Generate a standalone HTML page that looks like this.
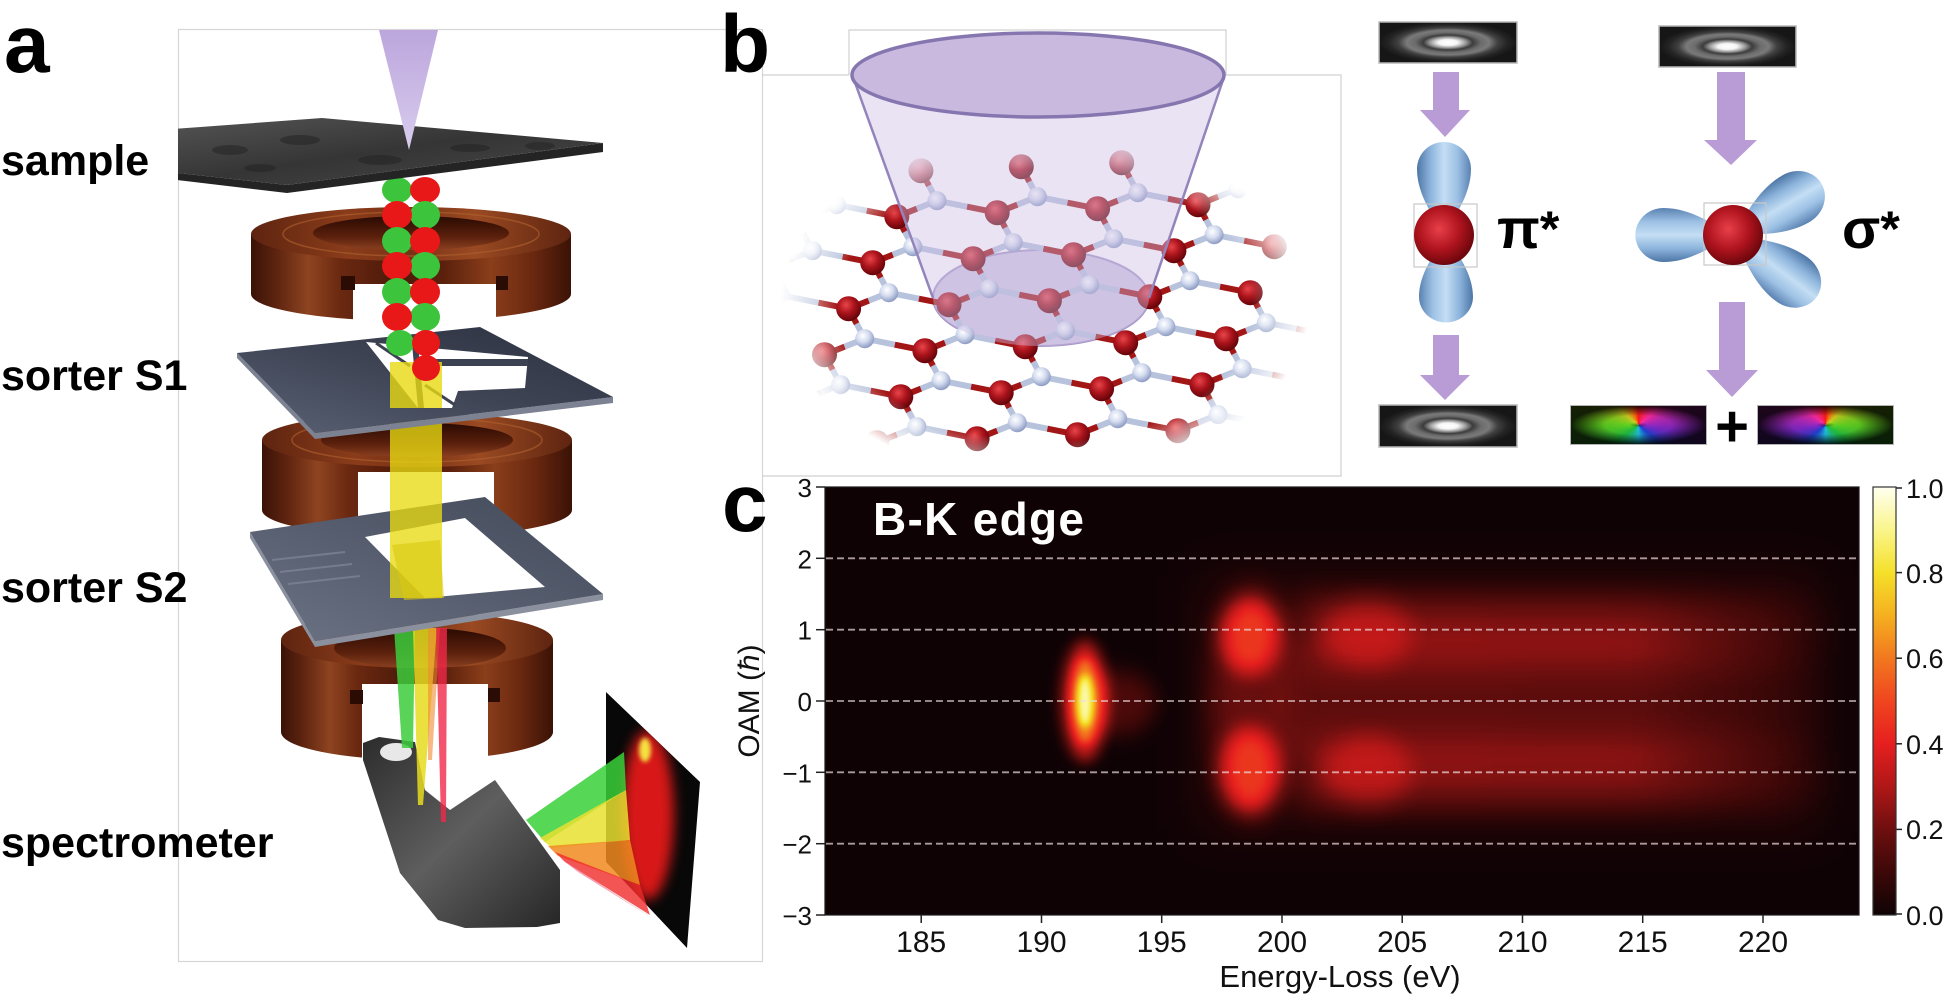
<!DOCTYPE html>
<html><head><meta charset="utf-8">
<style>
html,body{margin:0;padding:0;background:#fff;}
#wrap{position:relative;width:1950px;height:996px;overflow:hidden;background:#fff;font-family:"Liberation Sans",Arial,sans-serif;}
#wrap svg{position:absolute;left:0;top:0;}
.vx{position:absolute;box-sizing:border-box;border:1.5px solid #b4b4b4;}
</style></head><body><div id="wrap">
<svg width="1950" height="996" viewBox="0 0 1950 996" xmlns="http://www.w3.org/2000/svg" font-family="Liberation Sans, Arial, sans-serif">
<defs>
 <linearGradient id="cmap" x1="0" y1="1" x2="0" y2="0">
  <stop offset="0" stop-color="#0f0305"/><stop offset="0.1" stop-color="#3d0808"/><stop offset="0.2" stop-color="#6e0f0f"/>
  <stop offset="0.3" stop-color="#b01717"/><stop offset="0.4" stop-color="#e61f1f"/><stop offset="0.5" stop-color="#f0451f"/>
  <stop offset="0.6" stop-color="#f2781f"/><stop offset="0.7" stop-color="#f5b01f"/><stop offset="0.8" stop-color="#f5e029"/>
  <stop offset="0.9" stop-color="#faf58c"/><stop offset="1" stop-color="#fffff0"/>
 </linearGradient>
 <linearGradient id="rg" gradientUnits="userSpaceOnUse" x1="1300" y1="0" x2="1840" y2="0">
  <stop offset="0" stop-color="#fff" stop-opacity="0.2"/><stop offset="0.63" stop-color="#fff" stop-opacity="0.19"/>
  <stop offset="0.88" stop-color="#fff" stop-opacity="0.06"/><stop offset="1" stop-color="#fff" stop-opacity="0"/>
 </linearGradient>
 <filter id="hot" filterUnits="userSpaceOnUse" x="825" y="487" width="1034" height="428" color-interpolation-filters="sRGB">
  <feComponentTransfer>
   <feFuncR type="table" tableValues="0.06 0.24 0.43 0.69 0.9 0.94 0.95 0.96 0.96 0.98 1"/>
   <feFuncG type="table" tableValues="0.01 0.03 0.06 0.09 0.12 0.27 0.47 0.69 0.88 0.96 1"/>
   <feFuncB type="table" tableValues="0.02 0.03 0.06 0.09 0.12 0.12 0.12 0.12 0.16 0.55 0.94"/>
  </feComponentTransfer>
 </filter>
 <filter id="b2" x="-100%" y="-100%" width="300%" height="300%" color-interpolation-filters="sRGB"><feGaussianBlur stdDeviation="2"/></filter>
 <filter id="b4" x="-100%" y="-100%" width="300%" height="300%" color-interpolation-filters="sRGB"><feGaussianBlur stdDeviation="4"/></filter>
 <filter id="b5" x="-100%" y="-100%" width="300%" height="300%" color-interpolation-filters="sRGB"><feGaussianBlur stdDeviation="5"/></filter>
 <filter id="b6" x="-100%" y="-100%" width="300%" height="300%" color-interpolation-filters="sRGB"><feGaussianBlur stdDeviation="6"/></filter>
 <filter id="b10" x="-100%" y="-100%" width="300%" height="300%" color-interpolation-filters="sRGB"><feGaussianBlur stdDeviation="10"/></filter>
 <filter id="b12" x="-100%" y="-100%" width="300%" height="300%" color-interpolation-filters="sRGB"><feGaussianBlur stdDeviation="12"/></filter>
 <filter id="b14" x="-100%" y="-100%" width="300%" height="300%" color-interpolation-filters="sRGB"><feGaussianBlur stdDeviation="14"/></filter>
 <filter id="b17" x="-100%" y="-100%" width="300%" height="300%" color-interpolation-filters="sRGB"><feGaussianBlur stdDeviation="17"/></filter>
 <filter id="b25" x="-100%" y="-100%" width="300%" height="300%" color-interpolation-filters="sRGB"><feGaussianBlur stdDeviation="25"/></filter>
 <clipPath id="pc"><rect x="825" y="487" width="1034" height="428"/></clipPath>
 <clipPath id="pa"><rect x="178" y="30" width="584" height="932"/></clipPath>
 <clipPath id="scr"><polygon points="606,692 700,782 687,948 606,862"/></clipPath>

 <linearGradient id="cu" x1="0" y1="0" x2="1" y2="0">
  <stop offset="0" stop-color="#3a1206"/><stop offset="0.08" stop-color="#5e2410"/><stop offset="0.18" stop-color="#8e4420"/>
  <stop offset="0.28" stop-color="#6a2810"/><stop offset="0.45" stop-color="#4e1a0a"/><stop offset="0.6" stop-color="#5a200c"/>
  <stop offset="0.75" stop-color="#8a3e1a"/><stop offset="0.88" stop-color="#6a2810"/><stop offset="1" stop-color="#3a1206"/>
 </linearGradient>
 <linearGradient id="cuT" x1="0" y1="0" x2="1" y2="0">
  <stop offset="0" stop-color="#5e2410"/><stop offset="0.3" stop-color="#8a3c1a"/><stop offset="0.5" stop-color="#7a3216"/>
  <stop offset="0.7" stop-color="#9a4a22"/><stop offset="1" stop-color="#5e2410"/>
 </linearGradient>
 <linearGradient id="cuI" x1="0" y1="0" x2="0" y2="1">
  <stop offset="0" stop-color="#2a0a02"/><stop offset="0.6" stop-color="#5a200c"/><stop offset="1" stop-color="#8a4020"/>
 </linearGradient>
 <linearGradient id="pl1" x1="0" y1="1" x2="1" y2="0">
  <stop offset="0" stop-color="#5a6275"/><stop offset="0.5" stop-color="#3e4454"/><stop offset="1" stop-color="#2c3140"/>
 </linearGradient>
 <linearGradient id="pl2" x1="0" y1="1" x2="1" y2="0">
  <stop offset="0" stop-color="#6c7384"/><stop offset="0.5" stop-color="#565d6e"/><stop offset="1" stop-color="#434a5a"/>
 </linearGradient>
 <linearGradient id="smp" x1="0" y1="0" x2="1" y2="1">
  <stop offset="0" stop-color="#555"/><stop offset="0.5" stop-color="#353535"/><stop offset="1" stop-color="#4a4a4a"/>
 </linearGradient>
 <linearGradient id="spec" x1="0" y1="0" x2="1" y2="1">
  <stop offset="0" stop-color="#2c2c2c"/><stop offset="0.5" stop-color="#5e5e5e"/><stop offset="1" stop-color="#262626"/>
 </linearGradient>
 <linearGradient id="beam" x1="0" y1="0" x2="0" y2="1">
  <stop offset="0" stop-color="#bca6dc"/><stop offset="1" stop-color="#d8ccee"/>
 </linearGradient>
 <linearGradient id="lobeG" x1="0" y1="0" x2="1" y2="0">
  <stop offset="0" stop-color="#4e76a6"/><stop offset="0.25" stop-color="#8cb4dc"/><stop offset="0.5" stop-color="#c4def4"/>
  <stop offset="0.75" stop-color="#9cc0e4"/><stop offset="1" stop-color="#5a82b2"/>
 </linearGradient>
 <radialGradient id="bigRed" cx="0.42" cy="0.4" r="0.62">
  <stop offset="0" stop-color="#e8404a"/><stop offset="0.55" stop-color="#b0141e"/><stop offset="1" stop-color="#6a060c"/>
 </radialGradient>
 <radialGradient id="gRed" cx="0.4" cy="0.35" r="0.65">
  <stop offset="0" stop-color="#e8454a"/><stop offset="0.5" stop-color="#ac141c"/><stop offset="1" stop-color="#640409"/>
 </radialGradient>
 <radialGradient id="gBlu" cx="0.4" cy="0.35" r="0.65">
  <stop offset="0" stop-color="#ffffff"/><stop offset="0.5" stop-color="#d4dcef"/><stop offset="1" stop-color="#8e9cc4"/>
 </radialGradient>
 <radialGradient id="gb" cx="0.5" cy="0.5" r="0.5">
  <stop offset="0" stop-color="#ffffff"/><stop offset="0.14" stop-color="#f6f6f6"/><stop offset="0.26" stop-color="#9a9a9a"/>
  <stop offset="0.36" stop-color="#3c3c3c"/><stop offset="0.48" stop-color="#6c6c6c"/><stop offset="0.6" stop-color="#7a7a7a"/>
  <stop offset="0.72" stop-color="#404040"/><stop offset="0.86" stop-color="#242424"/><stop offset="1" stop-color="#161616"/>
 </radialGradient>
 <radialGradient id="latg" gradientUnits="userSpaceOnUse" cx="1045" cy="305" r="265" gradientTransform="translate(1045 305) scale(1 0.66) translate(-1045 -305)">
  <stop offset="0.78" stop-color="#fff"/><stop offset="1" stop-color="#000"/>
 </radialGradient>
 <mask id="latm" maskUnits="userSpaceOnUse" x="761" y="76" width="580" height="400">
  <rect x="761" y="76" width="580" height="400" fill="url(#latg)"/>
 </mask>
 <g id="bnd" stroke-width="6">
  <line x1="0" y1="0" x2="-8.05" y2="-15" stroke="#b7c2dc"/>
  <line x1="-8.05" y1="-15" x2="-16.1" y2="-30" stroke="#a31616"/>
  <line x1="0" y1="0" x2="-20.1" y2="8" stroke="#b7c2dc"/>
  <line x1="-20.1" y1="8" x2="-40.2" y2="16" stroke="#a31616"/>
  <line x1="0" y1="0" x2="30.1" y2="6" stroke="#b7c2dc"/>
  <line x1="30.1" y1="6" x2="60.2" y2="12" stroke="#a31616"/>
 </g>
 <circle id="aR" r="12.5" fill="url(#gRed)"/>
 <circle id="aB" r="9.5" fill="url(#gBlu)"/>
 <path id="lobe" d="M0,0 C-10,-18 -27,-40 -27,-66 A27,27 0 0 1 27,-66 C27,-40 10,-18 0,0 Z" fill="url(#lobeG)"/>
</defs>

<!-- ================= PANEL A ================= -->
<rect x="178.5" y="29.5" width="584" height="932" fill="none" stroke="#d6d6d6" stroke-width="1.2"/>
<g clip-path="url(#pa)">
 <!-- ring 3 -->
 <path d="M281,640 L281,732 A136,28 0 0 0 553,732 L553,640 Z" fill="url(#cu)"/>
 <ellipse cx="417" cy="640" rx="136" ry="28" fill="url(#cuT)"/>
 <ellipse cx="420" cy="648" rx="86" ry="20" fill="url(#cuI)"/>
 <rect x="362" y="684" width="126" height="80" fill="#fff"/>
 <rect x="350" y="690" width="13" height="14" fill="#2a0c04"/>
 <rect x="488" y="688" width="12" height="14" fill="#2a0c04"/>
 <!-- spectrometer -->
 <polygon points="363,743 379,737 415,742 425,790 450,810 495,780 560,870 560,923 537,927 465,928 438,920 400,873 363,760" fill="url(#spec)"/>
 <ellipse cx="396" cy="752" rx="16" ry="9" fill="#e8e8e8"/>
 <!-- colored beams below S2 -->
 <polygon points="394,628 415,628 413,748 402,748" fill="#3ccc3c" opacity="0.85"/>
 <polygon points="413,628 437,628 423,805 418,805" fill="#e6dc20" opacity="0.85"/>
 <polygon points="428,628 440,628 432,760 428,760" fill="#f08a30" opacity="0.6"/>
 <polygon points="436,628 447,628 446,822 441,822" fill="#f02848" opacity="0.8"/>
 <!-- ring 2 -->
 <path d="M262,440 L262,510 A155,27 0 0 0 572,510 L572,440 Z" fill="url(#cu)"/>
 <ellipse cx="417" cy="440" rx="155" ry="27" fill="url(#cuT)"/>
 <ellipse cx="417" cy="440" rx="96" ry="17" fill="url(#cuI)"/>
 <ellipse cx="417" cy="440" rx="125" ry="22" fill="none" stroke="#b0622e" stroke-width="1.5" opacity="0.6"/>
 <rect x="358" y="472" width="136" height="76" fill="#fff"/>
 <!-- ring 1 -->
 <path d="M251,234 L251,294 A160,27 0 0 0 571,294 L571,234 Z" fill="url(#cu)"/>
 <ellipse cx="411" cy="234" rx="160" ry="27" fill="url(#cuT)"/>
 <ellipse cx="411" cy="233" rx="98" ry="17" fill="url(#cuI)"/>
 <ellipse cx="411" cy="234" rx="128" ry="22" fill="none" stroke="#b0622e" stroke-width="1.5" opacity="0.6"/>
 <rect x="353" y="284" width="143" height="45" fill="#fff"/>
 <rect x="341" y="276" width="14" height="14" fill="#2a0c04"/>
 <rect x="496" y="276" width="12" height="14" fill="#2a0c04"/>
 <!-- S2 plate -->
 <polygon points="250,532 315,641 603,594 603,600 315,647 250,538" fill="#8a909e"/>
 <polygon points="250,532 485,497 603,594 315,641" fill="url(#pl2)"/>
 <polygon points="365,537 465,518 545,587 425,598" fill="#fff"/>
 <g stroke="#7c8394" stroke-width="2" opacity="0.8">
  <line x1="272" y1="560" x2="345" y2="552"/><line x1="280" y1="572" x2="352" y2="564"/><line x1="288" y1="584" x2="360" y2="576"/>
 </g>
 <!-- yellow lower -->
 <rect x="390" y="420" width="52" height="178" fill="#e8da12" opacity="0.78"/>
 <polygon points="392,545 440,540 444,598 404,600" fill="#d8c810" opacity="0.6"/>
 <!-- S1 plate -->
 <polygon points="237,353 315,433 613,397 613,403 315,439 237,358" fill="#7c8292"/>
 <polygon points="237,353 480,327 613,397 315,433" fill="url(#pl1)"/>
 <polygon points="366,342 528,357 525,388 458,391 452,408 418,408" fill="#fff"/>
 <polygon points="414,359 528,359 528,366 414,366" fill="#3c4252"/>
 <polygon points="412,344 418,344 424,408 418,408" fill="#3c4252"/>
 <line x1="376" y1="343" x2="410" y2="366" stroke="#3c4252" stroke-width="3"/>
 <line x1="425" y1="385" x2="455" y2="405" stroke="#3c4252" stroke-width="3"/>
 <rect x="390" y="362" width="52" height="46" fill="#e8da12" opacity="0.8"/>
 <!-- helix -->
 <g>
  <ellipse cx="397" cy="190" rx="15" ry="13" fill="#3cc43c"/><ellipse cx="425" cy="190" rx="15" ry="13" fill="#e81818"/>
  <ellipse cx="425" cy="215" rx="15" ry="14" fill="#3cc43c"/><ellipse cx="397" cy="215" rx="15" ry="14" fill="#e81818"/>
  <ellipse cx="397" cy="241" rx="15" ry="14" fill="#3cc43c"/><ellipse cx="425" cy="241" rx="15" ry="14" fill="#e81818"/>
  <ellipse cx="425" cy="266" rx="15" ry="14" fill="#3cc43c"/><ellipse cx="397" cy="266" rx="15" ry="14" fill="#e81818"/>
  <ellipse cx="397" cy="292" rx="15" ry="14" fill="#3cc43c"/><ellipse cx="425" cy="292" rx="15" ry="14" fill="#e81818"/>
  <ellipse cx="425" cy="317" rx="15" ry="14" fill="#3cc43c"/><ellipse cx="397" cy="317" rx="15" ry="14" fill="#e81818"/>
  <ellipse cx="400" cy="343" rx="14" ry="13" fill="#3cc43c"/><ellipse cx="426" cy="343" rx="14" ry="13" fill="#e81818"/>
  <ellipse cx="426" cy="368" rx="14" ry="13" fill="#e81818"/>
 </g>
 <!-- screen -->
 <polygon points="606,692 700,782 687,948 606,862" fill="#080808"/>
 <g clip-path="url(#scr)">
  <ellipse cx="648" cy="815" rx="26" ry="85" fill="#d81818" filter="url(#b6)"/>
  <ellipse cx="645" cy="750" rx="6" ry="12" fill="#f4e040" filter="url(#b2)"/>
 </g>
 <!-- fan -->
 <polygon points="526,820 545,842 626,790 624,752" fill="#38d038" opacity="0.85"/>
 <polygon points="540,838 552,848 630,840 626,790" fill="#e8e030" opacity="0.85"/>
 <polygon points="548,846 558,856 640,885 630,840" fill="#f08a20" opacity="0.85"/>
 <polygon points="555,852 565,862 650,915 640,885" fill="#f02a2a" opacity="0.8"/>
 <polygon points="560,858 578,872 652,918" fill="#f06080" opacity="0.6"/>
 <!-- sample plate -->
 <polygon points="160,171 287,185 603,143 603,152 287,193 160,178" fill="#242424"/>
 <polygon points="160,130 322,118 603,143 287,185 160,171" fill="url(#smp)"/>
 <g fill="#222" opacity="0.5">
  <ellipse cx="230" cy="150" rx="18" ry="5"/><ellipse cx="300" cy="140" rx="20" ry="5"/><ellipse cx="380" cy="160" rx="22" ry="5"/>
  <ellipse cx="470" cy="148" rx="20" ry="4"/><ellipse cx="260" cy="168" rx="16" ry="4"/><ellipse cx="540" cy="146" rx="15" ry="4"/>
 </g>
 <!-- electron beam cone -->
 <polygon points="379,30 438,30 409,150" fill="url(#beam)"/>
</g>

<!-- labels panel a -->
<text x="4" y="72" font-size="82" font-weight="bold" fill="#000">a</text>
<g font-size="43" font-weight="bold" fill="#000">
 <text x="1" y="175">sample</text>
 <text x="1" y="390">sorter S1</text>
 <text x="1" y="602">sorter S2</text>
 <text x="1" y="857">spectrometer</text>
</g>

<!-- ================= PANEL B ================= -->
<text x="720" y="72" font-size="82" font-weight="bold" fill="#000">b</text>
<g stroke="#d0d0d0" stroke-width="1.2" fill="none">
 <path d="M849,75 V30 H1226 V75"/>
 <path d="M762,75 H849 M1226,75 H1341 V476 H762"/>
</g>
<ellipse cx="1041" cy="298" rx="108" ry="48" fill="#c0b0dc" fill-opacity="0.7" stroke="#a898c8" stroke-width="2"/>
<g mask="url(#latm)">
 <g>
  <use href="#bnd" x="836.6" y="204.7"/><use href="#bnd" x="937" y="200.7"/><use href="#bnd" x="1037.4" y="196.7"/><use href="#bnd" x="1137.8" y="192.7"/><use href="#bnd" x="1238.2" y="188.7"/>
  <use href="#bnd" x="812.5" y="250.7"/><use href="#bnd" x="912.9" y="246.7"/><use href="#bnd" x="1013.3" y="242.7"/><use href="#bnd" x="1113.7" y="238.7"/><use href="#bnd" x="1214.1" y="234.7"/>
  <use href="#bnd" x="788.4" y="296.7"/><use href="#bnd" x="888.8" y="292.7"/><use href="#bnd" x="989.2" y="288.7"/><use href="#bnd" x="1089.6" y="284.7"/><use href="#bnd" x="1190" y="280.7"/>
  <use href="#bnd" x="864.7" y="338.7"/><use href="#bnd" x="965.1" y="334.7"/><use href="#bnd" x="1065.5" y="330.7"/><use href="#bnd" x="1165.9" y="326.7"/><use href="#bnd" x="1266.3" y="322.7"/>
  <use href="#bnd" x="840.6" y="384.7"/><use href="#bnd" x="941" y="380.7"/><use href="#bnd" x="1041.4" y="376.7"/><use href="#bnd" x="1141.8" y="372.7"/><use href="#bnd" x="1242.2" y="368.7"/>
  <use href="#bnd" x="916.9" y="426.7"/><use href="#bnd" x="1017.3" y="422.7"/><use href="#bnd" x="1117.7" y="418.7"/><use href="#bnd" x="1218.1" y="414.7"/>
 </g>
 <g>
  <use href="#aR" x="820.5" y="174.7"/><use href="#aR" x="920.9" y="170.7"/><use href="#aR" x="1021.3" y="166.7"/><use href="#aR" x="1121.7" y="162.7"/><use href="#aR" x="1222.1" y="158.7"/>
  <use href="#aR" x="896.8" y="216.7"/><use href="#aR" x="997.2" y="212.7"/><use href="#aR" x="1097.6" y="208.7"/><use href="#aR" x="1198" y="204.7"/><use href="#aR" x="1298.4" y="200.7"/>
  <use href="#aR" x="872.7" y="262.7"/><use href="#aR" x="973.1" y="258.7"/><use href="#aR" x="1073.5" y="254.7"/><use href="#aR" x="1173.9" y="250.7"/><use href="#aR" x="1274.3" y="246.7"/>
  <use href="#aR" x="848.6" y="308.7"/><use href="#aR" x="949" y="304.7"/><use href="#aR" x="1049.4" y="300.7"/><use href="#aR" x="1149.8" y="296.7"/><use href="#aR" x="1250.2" y="292.7"/>
  <use href="#aR" x="824.5" y="354.7"/><use href="#aR" x="924.9" y="350.7"/><use href="#aR" x="1025.3" y="346.7"/><use href="#aR" x="1125.7" y="342.7"/><use href="#aR" x="1226.1" y="338.7"/>
  <use href="#aR" x="900.8" y="396.7"/><use href="#aR" x="1001.2" y="392.7"/><use href="#aR" x="1101.6" y="388.7"/><use href="#aR" x="1202" y="384.7"/>
  <use href="#aR" x="876.7" y="442.7"/><use href="#aR" x="977.1" y="438.7"/><use href="#aR" x="1077.5" y="434.7"/><use href="#aR" x="1177.9" y="430.7"/>
 </g>
 <g>
  <use href="#aB" x="836.6" y="204.7"/><use href="#aB" x="937" y="200.7"/><use href="#aB" x="1037.4" y="196.7"/><use href="#aB" x="1137.8" y="192.7"/><use href="#aB" x="1238.2" y="188.7"/>
  <use href="#aB" x="812.5" y="250.7"/><use href="#aB" x="912.9" y="246.7"/><use href="#aB" x="1013.3" y="242.7"/><use href="#aB" x="1113.7" y="238.7"/><use href="#aB" x="1214.1" y="234.7"/>
  <use href="#aB" x="888.8" y="292.7"/><use href="#aB" x="989.2" y="288.7"/><use href="#aB" x="1089.6" y="284.7"/><use href="#aB" x="1190" y="280.7"/>
  <use href="#aB" x="864.7" y="338.7"/><use href="#aB" x="965.1" y="334.7"/><use href="#aB" x="1065.5" y="330.7"/><use href="#aB" x="1165.9" y="326.7"/><use href="#aB" x="1266.3" y="322.7"/>
  <use href="#aB" x="840.6" y="384.7"/><use href="#aB" x="941" y="380.7"/><use href="#aB" x="1041.4" y="376.7"/><use href="#aB" x="1141.8" y="372.7"/><use href="#aB" x="1242.2" y="368.7"/>
  <use href="#aB" x="916.9" y="426.7"/><use href="#aB" x="1017.3" y="422.7"/><use href="#aB" x="1117.7" y="418.7"/><use href="#aB" x="1218.1" y="414.7"/>
 </g>
</g>
<path d="M853,77 L933,298 A108,48 0 0 0 1149,298 L1224,77 A186,42 0 0 1 853,77 Z" fill="#cbbde2" fill-opacity="0.42"/>
<g stroke="#9484bc" stroke-width="2.5"><line x1="853" y1="77" x2="933" y2="298"/><line x1="1224" y1="77" x2="1149" y2="298"/></g>
<ellipse cx="1038" cy="75" rx="186" ry="42" fill="#c9b9df" stroke="#8676b0" stroke-width="3.5"/>

<rect x="1379" y="22" width="138" height="41" fill="url(#gb)" stroke="#b8b8b8" stroke-width="1.5"/>
<rect x="1659" y="26" width="137" height="41" fill="url(#gb)" stroke="#b8b8b8" stroke-width="1.5"/>
<rect x="1379" y="405" width="138" height="42" fill="url(#gb)" stroke="#b8b8b8" stroke-width="1.5"/>
<g fill="#b99bd6">
 <polygon points="1433,72 1459,72 1459,110 1470,110 1445,137 1420,110 1433,110"/>
 <polygon points="1717,72 1745,72 1745,140 1757,140 1731,165 1704,140 1717,140"/>
 <polygon points="1433,335 1459,335 1459,375 1470,375 1445,400 1420,375 1433,375"/>
 <polygon points="1719,302 1745,302 1745,370 1758,370 1732,397 1706,370 1719,370"/>
</g>
<use href="#lobe" transform="translate(1444,235)"/>
<use href="#lobe" transform="translate(1446,235) rotate(180) scale(1,0.94)"/>
<rect x="1414" y="204" width="63" height="63" fill="none" stroke="#c8c8c8" stroke-width="1.2"/>
<circle cx="1444" cy="235" r="30" fill="url(#bigRed)"/>
<text x="1497" y="248" font-size="56" font-weight="bold" fill="#000">π<tspan font-size="50" dy="-2">*</tspan></text>
<use href="#lobe" transform="translate(1733,235) rotate(-90) scale(1,1.05)"/>
<use href="#lobe" transform="translate(1733,235) rotate(60) scale(1,1.1)"/>
<use href="#lobe" transform="translate(1733,235) rotate(127) scale(1,1.12)"/>
<rect x="1704" y="203" width="62" height="62" fill="none" stroke="#c8c8c8" stroke-width="1.2"/>
<circle cx="1733" cy="235" r="30" fill="url(#bigRed)"/>
<text x="1842" y="248" font-size="56" font-weight="bold" fill="#000">σ<tspan font-size="50" dy="-2">*</tspan></text>
<text x="1732" y="446" font-size="58" font-weight="bold" text-anchor="middle" fill="#000">+</text>

<!-- ================= PANEL C ================= -->
<text x="722" y="531" font-size="82" font-weight="bold" fill="#000">c</text>
<g clip-path="url(#pc)">
 <g filter="url(#hot)">
  <rect x="825" y="487" width="1034" height="428" fill="#000"/>
  <g fill="#fff">
   <rect x="1200" y="575" width="620" height="255" fill-opacity="0.06" filter="url(#b25)"/>
   <rect x="1290" y="652" width="550" height="98" fill="url(#rg)" fill-opacity="0.6" filter="url(#b17)"/>
   <rect x="1300" y="600" width="540" height="64" fill="url(#rg)" filter="url(#b17)"/>
   <rect x="1300" y="740" width="540" height="64" fill="url(#rg)" filter="url(#b17)"/>
   <ellipse cx="1368" cy="632" rx="42" ry="36" fill-opacity="0.12" filter="url(#b12)"/>
   <ellipse cx="1368" cy="772" rx="42" ry="38" fill-opacity="0.12" filter="url(#b12)"/>
   <ellipse cx="1252" cy="703" rx="42" ry="120" fill-opacity="0.14" filter="url(#b14)"/>
   <ellipse cx="1250" cy="636" rx="30" ry="38" fill-opacity="0.34" filter="url(#b10)"/>
   <ellipse cx="1250" cy="770" rx="30" ry="42" fill-opacity="0.34" filter="url(#b10)"/>
   <ellipse cx="1118" cy="703" rx="38" ry="32" fill-opacity="0.13" filter="url(#b10)"/>
   <ellipse cx="1085" cy="701" rx="25" ry="62" fill-opacity="0.3" filter="url(#b6)"/>
   <ellipse cx="1085" cy="701" rx="14" ry="44" fill-opacity="0.45" filter="url(#b5)"/>
   <ellipse cx="1085" cy="701" rx="7" ry="26" fill-opacity="0.85" filter="url(#b4)"/>
  </g>
 </g>
</g>
<g stroke="#ecdcdc" stroke-opacity="0.7" stroke-width="1.8" stroke-dasharray="7 4">
 <line x1="826" y1="558.3" x2="1858" y2="558.3"/>
 <line x1="826" y1="629.7" x2="1858" y2="629.7"/>
 <line x1="826" y1="701" x2="1858" y2="701"/>
 <line x1="826" y1="772.3" x2="1858" y2="772.3"/>
 <line x1="826" y1="843.7" x2="1858" y2="843.7"/>
</g>
<rect x="825" y="487" width="1034" height="428" fill="none" stroke="#1a1a1a" stroke-width="1.2"/>
<text x="873" y="535" font-size="46" font-weight="bold" fill="#fff" letter-spacing="1.3">B-K edge</text>
<g stroke="#222" stroke-width="1.5">
 <line x1="816" y1="487" x2="825" y2="487"/><line x1="816" y1="558.3" x2="825" y2="558.3"/><line x1="816" y1="629.7" x2="825" y2="629.7"/>
 <line x1="816" y1="701" x2="825" y2="701"/><line x1="816" y1="772.3" x2="825" y2="772.3"/><line x1="816" y1="843.7" x2="825" y2="843.7"/>
 <line x1="816" y1="915" x2="825" y2="915"/>
 <line x1="921.2" y1="915" x2="921.2" y2="923"/><line x1="1041.5" y1="915" x2="1041.5" y2="923"/><line x1="1161.7" y1="915" x2="1161.7" y2="923"/>
 <line x1="1282" y1="915" x2="1282" y2="923"/><line x1="1402.2" y1="915" x2="1402.2" y2="923"/><line x1="1522.5" y1="915" x2="1522.5" y2="923"/>
 <line x1="1642.7" y1="915" x2="1642.7" y2="923"/><line x1="1763" y1="915" x2="1763" y2="923"/>
 <line x1="1896" y1="488" x2="1902" y2="488"/><line x1="1896" y1="572.6" x2="1902" y2="572.6"/><line x1="1896" y1="658.2" x2="1902" y2="658.2"/>
 <line x1="1896" y1="743.8" x2="1902" y2="743.8"/><line x1="1896" y1="829.4" x2="1902" y2="829.4"/><line x1="1896" y1="914" x2="1902" y2="914"/>
</g>
<g font-size="26" fill="#111" text-anchor="end">
 <text x="812" y="497">3</text><text x="812" y="568.3">2</text><text x="812" y="639.7">1</text>
 <text x="812" y="711">0</text><text x="812" y="782.3">−1</text><text x="812" y="853.7">−2</text><text x="812" y="925">−3</text>
</g>
<g font-size="30" fill="#111" text-anchor="middle">
 <text x="921.2" y="952">185</text><text x="1041.5" y="952">190</text><text x="1161.7" y="952">195</text><text x="1282" y="952">200</text>
 <text x="1402.2" y="952">205</text><text x="1522.5" y="952">210</text><text x="1642.7" y="952">215</text><text x="1763" y="952">220</text>
</g>
<text x="1340" y="987" font-size="31" fill="#111" text-anchor="middle">Energy-Loss (eV)</text>
<text transform="translate(759,701) rotate(-90)" font-size="30" fill="#111" text-anchor="middle">OAM (<tspan font-style="italic">ħ</tspan>)</text>
<rect x="1873" y="487" width="23" height="428" fill="url(#cmap)" stroke="#333" stroke-width="1.2"/>
<g font-size="27" fill="#111">
 <text x="1906" y="498">1.0</text><text x="1906" y="583">0.8</text><text x="1906" y="668">0.6</text>
 <text x="1906" y="754">0.4</text><text x="1906" y="839">0.2</text><text x="1906" y="925">0.0</text>
</g>
</svg>
<div class="vx" style="left:1570px;top:405px;width:137px;height:40px;background:radial-gradient(ellipse 50% 50% at 50% 50%, rgba(0,0,0,0.35) 0%, rgba(0,0,0,0) 14%, rgba(0,0,0,0.08) 50%, rgba(0,0,0,0.85) 100%), conic-gradient(from 0deg at 50% 50%, #ff1a1a 0deg, #ff2aa0 50deg, #7a28c8 100deg, #2040d0 130deg, #20c0e0 180deg, #20c040 235deg, #60d020 270deg, #d0d020 310deg, #ff6a10 340deg, #ff1a1a 360deg);"></div>
<div class="vx" style="left:1757px;top:405px;width:137px;height:40px;background:radial-gradient(ellipse 50% 50% at 50% 50%, rgba(0,0,0,0.35) 0%, rgba(0,0,0,0) 14%, rgba(0,0,0,0.08) 50%, rgba(0,0,0,0.85) 100%), conic-gradient(from 0deg at 50% 50%, #ff1a1a 0deg, #ff6a10 20deg, #d0d020 50deg, #60d020 90deg, #20c040 125deg, #20c0e0 180deg, #2040d0 230deg, #7a28c8 260deg, #ff2aa0 310deg, #ff1a1a 360deg);"></div>
</div></body></html>
